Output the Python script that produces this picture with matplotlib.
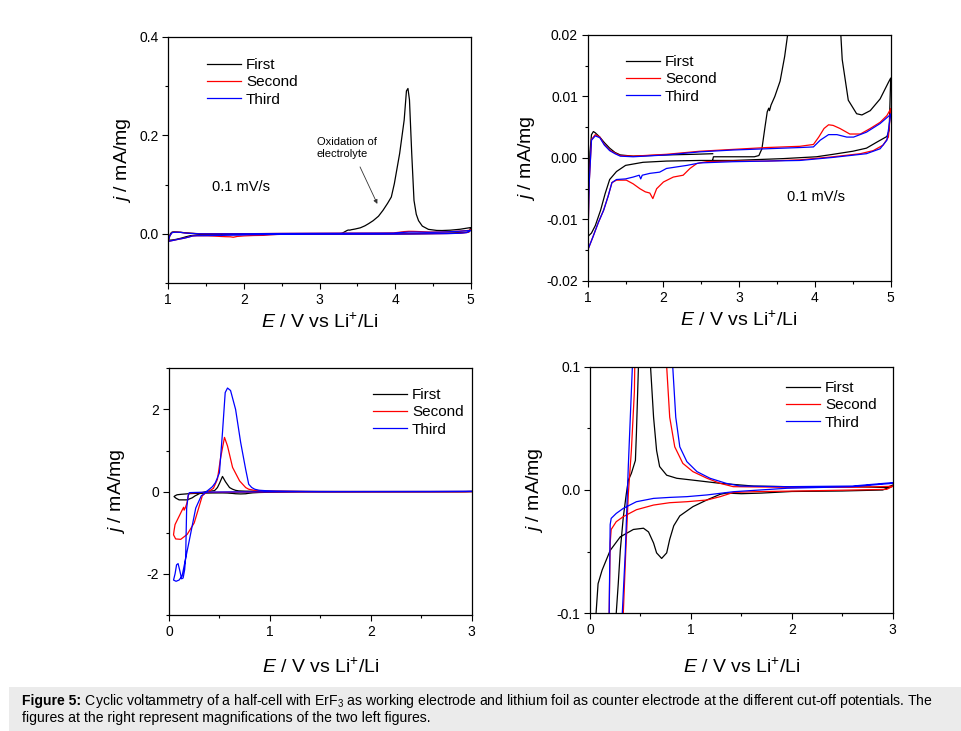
import matplotlib
matplotlib.use("Agg")
import matplotlib.pyplot as plt
from matplotlib.patches import Rectangle
from matplotlib.ticker import MultipleLocator, FormatStrFormatter

plt.rcParams['font.family'] = ['Liberation Sans', 'DejaVu Sans']
plt.rcParams['mathtext.fontset'] = 'custom'
plt.rcParams['mathtext.rm'] = 'Liberation Sans'
plt.rcParams['mathtext.it'] = 'Liberation Sans:italic'
plt.rcParams['mathtext.bf'] = 'Liberation Sans:bold'
plt.rcParams['axes.unicode_minus'] = False

W, H = 961, 731

# ---------------- data: 1 - 5 V window (top panels) ----------------
# First cycle: starts at OCV, anodic to 5 V, cathodic to 1 V, anodic back
first_hi_up_E = [2.65, 2.66, 2.9, 3.2, 3.26, 3.3, 3.34, 3.37, 3.39, 3.40, 3.42, 3.47, 3.54,
                 3.60, 3.65, 3.71, 3.78, 3.84, 3.90, 3.95, 3.99, 4.06, 4.12, 4.15, 4.17, 4.19,
                 4.22, 4.25, 4.28, 4.31, 4.36, 4.44, 4.55, 4.62, 4.73, 4.86, 4.97, 5.0]
first_hi_up_j = [-0.0003, 0.0002, 0.0002, 0.0002, 0.0004, 0.0015, 0.0050, 0.0075, 0.0081, 0.0077,
                 0.0086, 0.0100, 0.0125, 0.0165, 0.021, 0.027, 0.036, 0.048, 0.062, 0.075, 0.102,
                 0.163, 0.231, 0.290, 0.295, 0.272, 0.163, 0.068, 0.040, 0.027, 0.016, 0.0094,
                 0.0072, 0.0070, 0.0077, 0.0096, 0.0123, 0.013]
first_hi_down_E = [4.98, 4.95, 4.82, 4.68, 4.5, 4.24, 4.02, 3.58, 2.92, 2.48, 2.04, 1.73, 1.5,
                   1.38, 1.29, 1.23, 1.17, 1.1, 1.05, 1.0]
first_hi_down_j = [0.0045, 0.0035, 0.0026, 0.0016, 0.0011, 0.0006, 0.0002, -0.0001, -0.0004,
                   -0.0004, -0.0005, -0.0007, -0.0012, -0.0022, -0.0035, -0.0058, -0.0085,
                   -0.0110, -0.0122, -0.0128]
first_hi_back_E = [1.01, 1.03, 1.05, 1.075, 1.1, 1.16, 1.22, 1.29, 1.36, 1.43, 1.6, 2.04, 2.4, 2.65]
first_hi_back_j = [-0.0060, 0.0010, 0.0038, 0.0043, 0.0041, 0.0034, 0.0025, 0.0016, 0.0009,
                   0.0005, 0.0003, 0.0005, 0.0006, 0.0007]

# Second cycle: cathodic 5 -> 1 V, anodic 1 -> 5 V
second_hi_down_E = [5.0, 4.97, 4.9, 4.77, 4.6, 4.24, 3.8, 3.36, 2.92, 2.57, 2.44, 2.35, 2.26,
                    2.13, 2.0, 1.91, 1.86, 1.82, 1.76, 1.69, 1.6, 1.51, 1.38, 1.32, 1.27, 1.21,
                    1.14, 1.07, 1.0]
second_hi_down_j = [0.0080, 0.0034, 0.0021, 0.0012, 0.0007, 0.0002, -0.0003, -0.0005, -0.0005,
                    -0.0006, -0.0009, -0.0017, -0.0028, -0.0031, -0.0039, -0.0050, -0.0066,
                    -0.0057, -0.0055, -0.0050, -0.0042, -0.0036, -0.0036, -0.0040, -0.0062,
                    -0.0085, -0.0105, -0.0128, -0.0150]
second_hi_up_E = [1.0, 1.02, 1.05, 1.1, 1.16, 1.22, 1.29, 1.36, 1.43, 1.6, 2.04, 2.48, 2.92,
                  3.36, 3.8, 3.98, 4.05, 4.12, 4.18, 4.24, 4.33, 4.46, 4.6, 4.73, 4.86, 4.95, 5.0]
second_hi_up_j = [-0.0150, -0.0040, 0.0030, 0.0038, 0.0034, 0.0022, 0.0013, 0.0008, 0.0004,
                  0.0003, 0.0006, 0.0011, 0.0014, 0.0017, 0.0019, 0.0022, 0.0034, 0.0048,
                  0.0054, 0.0053, 0.0048, 0.0039, 0.0039, 0.0048, 0.0058, 0.0069, 0.0080]

# Third cycle
third_hi_down_E = [5.0, 4.95, 4.86, 4.68, 4.24, 3.8, 2.92, 2.48, 2.31, 2.04, 1.95, 1.82, 1.72,
                   1.70, 1.68, 1.6, 1.5, 1.38, 1.32, 1.27, 1.21, 1.14, 1.07, 1.0]
third_hi_down_j = [0.0071, 0.0029, 0.0015, 0.0007, 0.0001, -0.0004, -0.0006, -0.0008, -0.0012,
                   -0.0017, -0.0023, -0.0025, -0.0028, -0.0034, -0.0028, -0.0031, -0.0034,
                   -0.0035, -0.0040, -0.0062, -0.0085, -0.0105, -0.0128, -0.0150]
third_hi_up_E = [1.0, 1.02, 1.05, 1.1, 1.16, 1.22, 1.29, 1.36, 1.43, 1.6, 2.04, 2.48, 2.92,
                 3.36, 3.8, 3.98, 4.07, 4.18, 4.29, 4.42, 4.51, 4.68, 4.86, 5.0]
third_hi_up_j = [-0.0150, -0.0040, 0.0029, 0.0036, 0.0033, 0.0021, 0.0012, 0.0007, 0.0003,
                 0.0002, 0.0005, 0.0010, 0.0013, 0.0015, 0.0017, 0.0018, 0.0029, 0.0038,
                 0.0038, 0.0034, 0.0034, 0.0042, 0.0056, 0.0071]

# ---------------- data: 0.05 - 3 V window (bottom panels) ----------------
first_lo_down_E = [3.0, 2.9, 2.5, 2.0, 1.7, 1.5, 1.35, 1.29, 1.16, 1.02, 0.89, 0.83, 0.79, 0.76,
                   0.71, 0.66, 0.63, 0.58, 0.53, 0.43, 0.3, 0.2, 0.12, 0.08, 0.06, 0.05]
first_lo_down_j = [0.003, 0.0, -0.0008, -0.0012, -0.0025, -0.0030, -0.0025, -0.0035, -0.0080,
                   -0.0135, -0.021, -0.029, -0.040, -0.051, -0.0555, -0.051, -0.043, -0.034,
                   -0.031, -0.032, -0.038, -0.049, -0.065, -0.076, -0.10, -0.12]
first_lo_up_E = [0.07, 0.1, 0.18, 0.23, 0.26, 0.28, 0.3, 0.33, 0.36, 0.38, 0.41, 0.45, 0.46,
                 0.48, 0.5, 0.53, 0.56, 0.6, 0.63, 0.66, 0.69, 0.76, 0.86, 1.02, 1.29, 1.62,
                 1.95, 2.6, 2.94, 3.0]
first_lo_up_j = [-0.16, -0.20, -0.20, -0.15, -0.10, -0.076, -0.049, -0.022, -0.003, 0.008,
                 0.0135, 0.024, 0.046, 0.10, 0.20, 0.37, 0.24, 0.10, 0.059, 0.032, 0.019, 0.012,
                 0.0095, 0.008, 0.0054, 0.0032, 0.0027, 0.0027, 0.002, 0.004]

second_lo_down_E = [3.0, 2.94, 2.28, 1.62, 1.42, 1.29, 1.16, 0.96, 0.79, 0.63, 0.46, 0.33, 0.26,
                    0.21, 0.2, 0.19, 0.185, 0.175, 0.16, 0.15, 0.145, 0.13, 0.1, 0.06, 0.05,
                    0.045]
second_lo_down_j = [0.003, 0.0005, -0.0005, -0.0014, -0.002, -0.0054, -0.0081, -0.0095, -0.0103,
                    -0.0122, -0.016, -0.0216, -0.0257, -0.032, -0.043, -0.10, -0.20, -0.30,
                    -0.40, -0.45, -0.38, -0.45, -0.60, -0.80, -0.95, -1.05]
second_lo_up_E = [0.066, 0.116, 0.18, 0.25, 0.3, 0.33, 0.355, 0.38, 0.41, 0.44, 0.48, 0.51,
                  0.55, 0.58, 0.63, 0.7, 0.76, 0.79, 0.84, 0.92, 1.02, 1.16, 1.29, 1.42, 1.95,
                  2.6, 3.0]
second_lo_up_j = [-1.15, -1.16, -1.04, -0.76, -0.35, -0.10, -0.049, -0.003, 0.032, 0.08, 0.30,
                  0.80, 1.32, 1.11, 0.59, 0.26, 0.10, 0.059, 0.035, 0.0216, 0.0149, 0.0095,
                  0.0054, 0.0027, 0.0022, 0.0022, 0.003]

third_lo_down_E = [3.0, 2.6, 1.95, 1.42, 1.16, 0.96, 0.79, 0.63, 0.46, 0.33, 0.26, 0.21, 0.2,
                   0.19, 0.175, 0.17, 0.165, 0.155, 0.14, 0.125, 0.105, 0.09, 0.075, 0.06, 0.045]
third_lo_down_j = [0.0054, 0.0027, 0.0014, -0.0014, -0.004, -0.0054, -0.006, -0.0068, -0.0095,
                   -0.0149, -0.019, -0.023, -0.028, -0.10, -0.40, -1.0, -1.6, -1.9, -2.1, -2.12,
                   -1.9, -1.75, -1.78, -2.0, -2.15]
third_lo_up_E = [0.07, 0.1, 0.13, 0.2, 0.265, 0.32, 0.35, 0.37, 0.38, 0.4, 0.43, 0.46, 0.5,
                 0.53, 0.557, 0.58, 0.61, 0.66, 0.71, 0.76, 0.79, 0.82, 0.85, 0.89, 0.96, 1.06,
                 1.19, 1.35, 1.49, 1.95, 2.6, 3.0]
third_lo_up_j = [-2.18, -2.15, -2.05, -1.2, -0.4, -0.1, -0.05, -0.003, 0.02, 0.06, 0.12, 0.22,
                 0.46, 1.44, 2.41, 2.52, 2.46, 2.0, 1.2, 0.54, 0.18, 0.10, 0.059, 0.035, 0.023,
                 0.0149, 0.0095, 0.0054, 0.0032, 0.0027, 0.0032, 0.006]

cycle_labels = ["First", "Second", "Third"]
cycle_colors = ["#000000", "#ff0000", "#0000ff"]

hi_cycles = [
    (first_hi_up_E + first_hi_down_E + first_hi_back_E, first_hi_up_j + first_hi_down_j + first_hi_back_j),
    (second_hi_down_E + second_hi_up_E, second_hi_down_j + second_hi_up_j),
    (third_hi_down_E + third_hi_up_E, third_hi_down_j + third_hi_up_j),
]
lo_cycles = [
    (first_lo_down_E + first_lo_up_E, first_lo_down_j + first_lo_up_j),
    (second_lo_down_E + second_lo_up_E, second_lo_down_j + second_lo_up_j),
    (third_lo_down_E + third_lo_up_E, third_lo_down_j + third_lo_up_j),
]

fig = plt.figure(figsize=(W / 100, H / 100), dpi=100)


def px_axes(l, t, r, b):
    return fig.add_axes([l / W, 1 - b / H, (r - l) / W, (b - t) / H])


ax1 = px_axes(168.3, 36.7, 470.7, 283.3)
ax2 = px_axes(587.7, 35.0, 890.7, 281.0)
ax3 = px_axes(169.0, 368.3, 471.7, 615.0)
ax4 = px_axes(590.0, 366.7, 892.7, 613.3)

specs = [
    (ax1, hi_cycles, (1, 5), (-0.1, 0.4), 1, 0.5, 0.2, 0.1, '%.1f', (-0.152, -0.158), (207, 58), 11),
    (ax2, hi_cycles, (1, 5), (-0.02, 0.02), 1, 0.5, 0.01, 0.005, '%.2f', (-0.202, -0.158), (626, 55), 11),
    (ax3, lo_cycles, (0, 3), (-3, 3), 1, 0.5, 2, 1, '%d', (-0.172, -0.21), (373, 388), 11),
    (ax4, lo_cycles, (0, 3), (-0.1, 0.1), 1, 0.5, 0.1, 0.05, '%.1f', (-0.182, -0.218), (786, 381), 11),
]

for ax, cycles, xl, yl, xmaj, xmin, ymaj, ymin, yfmt, lab, leg, lfs in specs:
    lines = []
    for (E, j), c, lbl in zip(cycles, cycle_colors, cycle_labels):
        ln, = ax.plot(E, j, color=c, lw=0.9, label=lbl)
        lines.append(ln)
    ax.set_xlim(*xl)
    ax.set_ylim(*yl)
    ax.xaxis.set_major_locator(MultipleLocator(xmaj))
    ax.xaxis.set_minor_locator(MultipleLocator(xmin))
    ax.yaxis.set_major_locator(MultipleLocator(ymaj))
    ax.yaxis.set_minor_locator(MultipleLocator(ymin))
    ax.yaxis.set_major_formatter(FormatStrFormatter(yfmt))
    ax.xaxis.set_major_formatter(FormatStrFormatter('%d'))
    ax.tick_params(which='major', direction='out', length=4, width=0.8, labelsize=10, pad=3)
    ax.tick_params(which='minor', direction='out', length=2.3, width=0.8)
    for s in ax.spines.values():
        s.set_linewidth(0.9)
    ax.set_ylabel(r"$j$ / mA/mg", fontsize=14, va='center')
    ax.set_xlabel(r"$E$ / V vs Li$^{+}$/Li", fontsize=14, va='center')
    ax.yaxis.set_label_coords(lab[0], 0.5)
    ax.xaxis.set_label_coords(0.5, lab[1])
    ax.legend(handles=lines, loc='upper left', bbox_to_anchor=(leg[0] / W, 1 - leg[1] / H),
              bbox_transform=fig.transFigure, frameon=False, borderpad=0, borderaxespad=0,
              handlelength=2.2, handletextpad=0.35, labelspacing=0.22, fontsize=lfs)

ax1.text(0.1435, 0.392, "0.1 mV/s", transform=ax1.transAxes, fontsize=10.5, va='center', ha='left')
ax2.text(0.658, 0.341, "0.1 mV/s", transform=ax2.transAxes, fontsize=10.5, va='center', ha='left')
ax1.text(2.963, 0.174, "Oxidation of\nelectrolyte", fontsize=8, ha='left', va='center', linespacing=1.3)
ax1.annotate("", xy=(3.765, 0.061), xytext=(3.536, 0.136),
             arrowprops=dict(arrowstyle='-|>', lw=0.6, color='#333333', mutation_scale=6,
                             shrinkA=0, shrinkB=0))

# caption band
fig.patches.append(Rectangle((8.5 / W, 0), 1 - 8.5 / W, (H - 687) / H, transform=fig.transFigure,
                             facecolor='#ebebeb', edgecolor='none', zorder=0))

cap1_bold = "Figure 5:"
cap1_rest = (" Cyclic voltammetry of a half-cell with ErF$_{3}$ as working electrode and lithium foil "
             "as counter electrode at the different cut-off potentials. The")
cap2 = "figures at the right represent magnifications of the two left figures."

fs = 8.0
x0 = 21.5
y1, y2 = 705.5, 722.0
tb = fig.text(x0 / W, 1 - y1 / H, cap1_bold, fontsize=fs, weight='bold', va='baseline', ha='left')
tr = fig.text(0, 1 - y1 / H, cap1_rest, fontsize=fs, va='baseline', ha='left')
t2 = fig.text(x0 / W, 1 - y2 / H, cap2, fontsize=fs, va='baseline', ha='left')
fig.canvas.draw()
r = fig.canvas.get_renderer()
for _ in range(3):
    bb = tb.get_window_extent(r)
    tr.set_x(bb.x1 / W)
    fig.canvas.draw()
    total = tr.get_window_extent(r).x1 - x0
    fs = fs * (915.0 / total)
    for t in (tb, tr, t2):
        t.set_fontsize(fs)
    fig.canvas.draw()
bb = tb.get_window_extent(r)
tr.set_x(bb.x1 / W)

fig.savefig("out.png", dpi=100)
